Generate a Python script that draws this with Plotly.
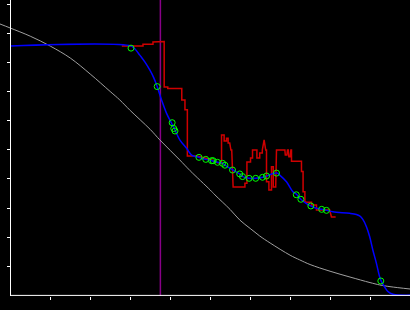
import plotly.graph_objects as go

# Gray reference curve
gray_x = [-0.26, 0.0, 0.5, 1.0, 1.5, 2.0, 2.5, 2.74, 3.0, 3.5, 3.74, 4.0, 4.24, 4.5, 5.0, 5.12,
          5.5, 5.74, 6.0, 6.24, 6.5, 7.0, 7.24, 7.5, 8.0, 8.5, 9.0, 9.24, 9.5, 10.0]
gray_y = [9.32, 9.18, 8.90, 8.56, 8.15, 7.60, 7.00, 6.71, 6.35, 5.70, 5.34, 4.98, 4.65, 4.28, 3.62, 3.45,
          2.95, 2.59, 2.30, 2.04, 1.80, 1.38, 1.22, 1.06, 0.83, 0.63, 0.44, 0.36, 0.30, 0.22]

# Blue fitted curve
blue_x = [0.0, 3.02, 3.12, 3.24, 3.37, 3.49, 3.59, 3.675, 3.785, 3.91, 4.035, 4.12, 4.24, 4.41, 4.535,
          4.72, 4.89, 5.04, 5.19, 5.32, 5.37, 5.57, 5.74, 5.82, 5.97, 6.14, 6.32, 6.42, 6.54, 6.67,
          6.74, 6.91, 7.07, 7.155, 7.27, 7.39, 7.52, 7.66, 7.79, 7.92, 8.07, 8.49, 8.66, 8.74, 8.82,
          8.91, 8.99, 9.07, 9.16, 9.24, 9.28, 9.37, 9.45, 9.575, 10.0]
blue_y = [8.56, 8.56, 8.46, 8.25, 8.01, 7.74, 7.47, 7.17, 6.71, 6.25, 5.91, 5.68, 5.34, 5.05, 4.82,
          4.74, 4.67, 4.625, 4.57, 4.535, 4.47, 4.305, 4.17, 4.08, 4.02, 4.02, 4.055, 4.10, 4.17, 4.20,
          4.13, 3.90, 3.56, 3.48, 3.30, 3.17, 3.07, 2.99, 2.96, 2.92, 2.87, 2.82, 2.78, 2.73, 2.61,
          2.36, 2.02, 1.56, 1.10, 0.64, 0.49, 0.28, 0.13, 0.04, 0.01]

# Red raw signal
red_x = [2.79, 3.32, 3.32, 3.57, 3.57, 3.85, 3.85, 3.94, 3.94, 4.29, 4.29, 4.37, 4.37, 4.43, 4.43,
         4.67, 4.87, 5.04, 5.19, 5.285, 5.285, 5.35, 5.35, 5.41, 5.41, 5.45, 5.45, 5.49, 5.52, 5.54,
         5.575, 5.87, 5.87, 5.92, 5.92, 6.01, 6.01, 6.06, 6.06, 6.17, 6.17, 6.24, 6.24, 6.305, 6.305,
         6.35, 6.39, 6.41, 6.41, 6.47, 6.47, 6.535, 6.535, 6.58, 6.58, 6.64, 6.66, 6.87, 6.88, 6.92,
         6.935, 6.955, 6.97, 7.005, 7.02, 7.035, 7.035, 7.285, 7.285, 7.325, 7.325, 7.37, 7.37, 7.41,
         7.535, 7.535, 7.66, 7.66, 7.99, 8.035, 8.14]
red_y = [8.56, 8.56, 8.62, 8.62, 8.70, 8.72, 7.155, 7.155, 7.10, 7.10, 6.71, 6.71, 6.37, 6.37, 4.79,
         4.79, 4.72, 4.65, 4.55, 4.53, 5.51, 5.51, 5.30, 5.30, 5.40, 5.40, 5.23, 5.23, 4.99, 4.99,
         3.72, 3.72, 3.85, 3.85, 4.58, 4.58, 4.72, 4.72, 4.99, 4.99, 4.72, 4.72, 4.89, 4.89, 4.99,
         5.34, 4.99, 4.99, 3.90, 3.90, 3.62, 3.62, 4.42, 4.42, 3.72, 3.72, 4.99, 4.99, 4.82, 4.82,
         4.99, 4.99, 4.76, 4.76, 4.99, 4.99, 4.61, 4.61, 4.25, 4.25, 3.56, 3.56, 3.22, 3.20,
         3.20, 3.10, 3.10, 2.93, 2.93, 2.69, 2.69]

# Green sample points
pts_x = [3.02, 3.675, 4.05, 4.09, 4.12, 4.72, 4.89, 5.035, 5.075, 5.185, 5.31, 5.37, 5.56, 5.74,
         5.81, 5.975, 6.14, 6.31, 6.41, 6.66, 7.155, 7.27, 7.52, 7.79, 7.91, 9.27]
pts_y = [8.49, 7.17, 5.93, 5.73, 5.645, 4.74, 4.67, 4.625, 4.625, 4.57, 4.535, 4.47, 4.305, 4.17,
         4.08, 4.02, 4.02, 4.055, 4.10, 4.20, 3.455, 3.30, 3.07, 2.955, 2.92, 0.495]

# Vertical marker position
marker_x = 3.755

x_ticks = [1, 2, 3, 4, 5, 6, 7, 8, 9]
y_ticks = [1, 2, 3, 4, 5, 6, 7, 8, 9, 10]
x_range = [-0.2575, 10.0]
y_range = [-0.0206, 10.1425]

fig = go.Figure()
fig.add_trace(go.Scatter(x=[marker_x, marker_x], y=[y_range[0], y_range[1]], mode="lines",
                         line=dict(color="#880088", width=1.5), hoverinfo="skip"))
fig.add_trace(go.Scatter(x=gray_x, y=gray_y, mode="lines", line_shape="spline",
                         line=dict(color="#a0a0a0", width=1)))
fig.add_trace(go.Scatter(x=red_x, y=red_y, mode="lines", line=dict(color="#d00000", width=1.5)))
fig.add_trace(go.Scatter(x=blue_x, y=blue_y, mode="lines", line_shape="spline",
                         line=dict(color="#0000ff", width=1.5)))
fig.add_trace(go.Scatter(x=pts_x, y=pts_y, mode="markers",
                         marker=dict(symbol="circle-open", size=6, color="#00ff00",
                                     line=dict(width=1, color="#00ff00"))))

# x-axis baseline starting at the y-axis
fig.add_shape(type="line", xref="x", yref="paper", x0=0, x1=x_range[1], y0=0.6 / 296, y1=0.6 / 296,
              line=dict(color="white", width=1), layer="above")

fig.update_layout(
    width=410, height=310,
    margin=dict(l=0, r=0, t=0, b=14),
    paper_bgcolor="black", plot_bgcolor="black",
    showlegend=False,
    xaxis=dict(range=x_range, domain=[0, 1], showgrid=False, zeroline=False, showline=False,
               tickmode="array", tickvals=x_ticks, ticks="outside", ticklen=3, tickwidth=1,
               tickcolor="white", showticklabels=False),
    yaxis=dict(range=y_range, anchor="free", position=0.0251, showgrid=False, zeroline=False,
               showline=True, linecolor="white", linewidth=1,
               tickmode="array", tickvals=y_ticks, ticks="outside", ticklen=3, tickwidth=1,
               tickcolor="white", showticklabels=False),
)

fig.write_html("out.html")
